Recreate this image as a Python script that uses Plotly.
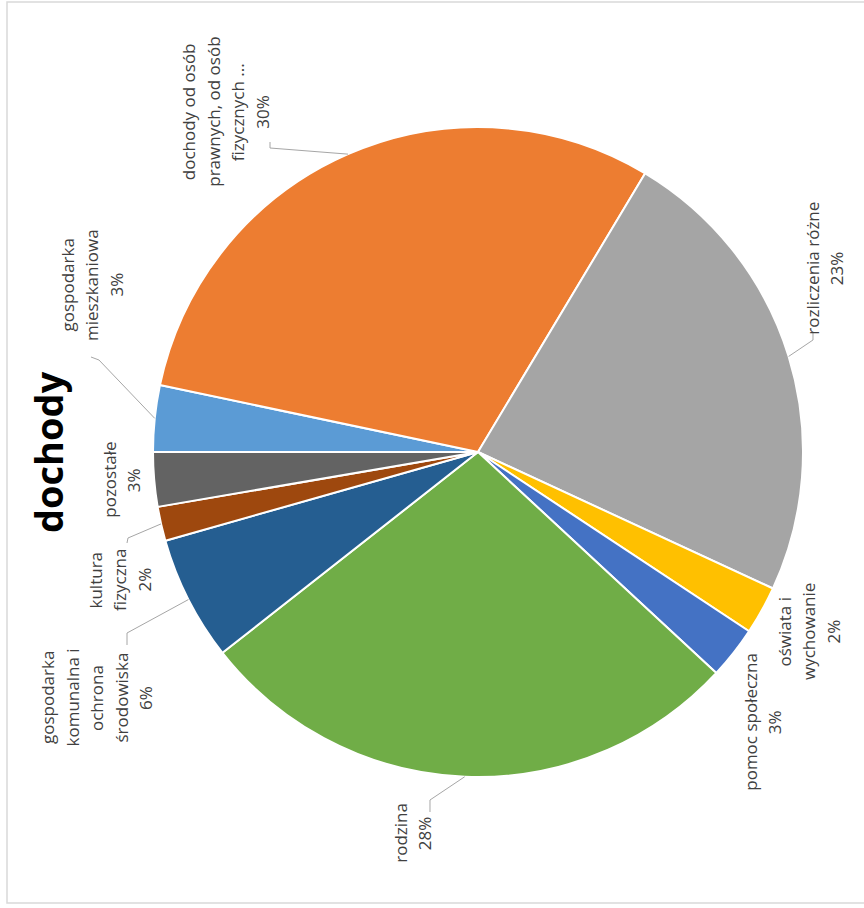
import math
import plotly.graph_objects as go

# ---- data ----
categories = [
    "gospodarka mieszkaniowa",
    "dochody od osób prawnych, od osób fizycznych ...",
    "rozliczenia różne",
    "oświata i wychowanie",
    "pomoc społeczna",
    "rodzina",
    "gospodarka komunalna i ochrona środowiska",
    "kultura fizyczna",
    "pozostałe",
]
label_lines = [
    ["gospodarka", "mieszkaniowa"],
    ["dochody od osób", "prawnych, od osób", "fizycznych ..."],
    ["rozliczenia różne"],
    ["oświata i", "wychowanie"],
    ["pomoc społeczna"],
    ["rodzina"],
    ["gospodarka", "komunalna i", "ochrona", "środowiska"],
    ["kultura", "fizyczna"],
    ["pozostałe"],
]
values = [3.3, 30.3, 23.3, 2.4, 2.6, 27.5, 6.2, 1.7, 2.7]
colors = ["#5B9BD5", "#ED7D31", "#A5A5A5", "#FFC000", "#4472C4",
          "#70AD47", "#255E91", "#9E480E", "#636363"]
title_text = "dochody"

# ---- layout geometry (pixels) ----
W, H = 864, 908
CX, CY, R = 478, 452, 325
START_DEG = -90  # first slice starts at 9 o'clock, clockwise
LINE_SP = 24.5

# label centres (px) and leader-line label-side points (px)
label_pos = [(92, 285), (226, 112), (824, 268), (808, 632), (762, 722),
             (412, 833), (96, 698), (119, 580), (121, 480)]
leader = {
    0: [(91, 357), (99, 360)],
    1: [(270, 142), (270, 148)],
    2: [(813, 333), (813, 340)],
    5: [(430, 812), (430, 800)],
    6: [(127, 645), (127, 633)],
    7: [(127, 543), (128, 538)],
}


def px(x):
    return x / W


def py(y):
    return 1 - y / H


total = sum(values)
pcts = [round(v / total * 100) for v in values]

fig = go.Figure()
fig.add_trace(go.Pie(
    labels=categories,
    values=values,
    sort=False,
    direction="clockwise",
    rotation=START_DEG,
    marker=dict(colors=colors, line=dict(color="white", width=2)),
    textinfo="none",
    hoverinfo="label+percent",
    showlegend=False,
    domain=dict(x=[px(CX - R), px(CX + R)], y=[py(CY + R), py(CY - R)]),
))

annotations = []
shapes = []

# title
annotations.append(dict(
    text="<b>%s</b>" % title_text, x=px(48), y=py(452), xref="paper", yref="paper",
    showarrow=False, textangle=-90, xanchor="center", yanchor="middle",
    font=dict(family="Open Sans", size=38, color="#000000"),
))

cum = 0.0
for i, v in enumerate(values):
    mid = cum + v / 2
    cum += v
    ang = math.radians(START_DEG + mid / total * 360)  # clockwise from 12 o'clock
    ex = CX + R * math.sin(ang)
    ey = CY - R * math.cos(ang)
    lx, ly = label_pos[i]
    lines = label_lines[i] + ["%d%%" % pcts[i]]
    n = len(lines)
    for k, line in enumerate(lines):
        x_line = lx + (k - (n - 1) / 2) * LINE_SP
        annotations.append(dict(
            text=line, x=px(x_line), y=py(ly), xref="paper", yref="paper",
            showarrow=False, textangle=-90, xanchor="center", yanchor="middle",
            align="center", font=dict(family="Open Sans", size=17, color="#404040"),
        ))
    if i in leader:
        pts = leader[i] + [(ex, ey)]
        path = "M " + " L ".join("%f,%f" % (px(a), py(b)) for a, b in pts)
        shapes.append(dict(type="path", path=path, xref="paper", yref="paper",
                           line=dict(color="#A6A6A6", width=1)))

# chart-area border
shapes.append(dict(type="rect", xref="paper", yref="paper",
                   x0=px(7), x1=px(875), y0=py(903), y1=py(2),
                   line=dict(color="#D9D9D9", width=1.5)))

fig.update_layout(
    width=W, height=H, autosize=False,
    margin=dict(l=0, r=0, t=0, b=0),
    paper_bgcolor="white", plot_bgcolor="white",
    annotations=annotations, shapes=shapes,
)

fig.write_html("out.html", config={"displayModeBar": False},
               post_script="document.body.style.margin='0px';")
